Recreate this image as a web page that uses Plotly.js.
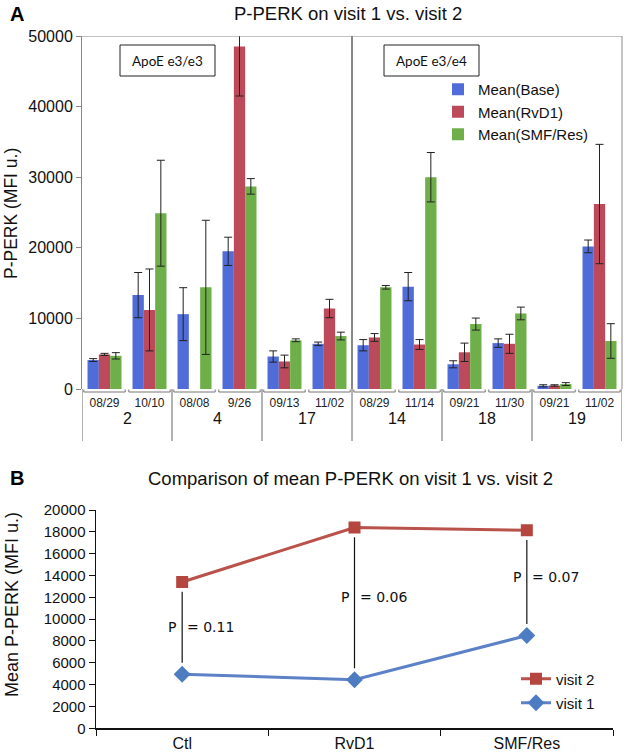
<!DOCTYPE html>
<html>
<head>
<meta charset="utf-8">
<script src="https://cdn.plot.ly/plotly-3.0.1.min.js"></script>
<style>
  html, body { margin: 0; padding: 0; background: #fff; }
  #chart { width: 625px; height: 753px; }
</style>
</head>
<body>
<div id="chart"></div>
<script>
// panel A: P-PERK per subject and visit date
const dates = ['08/29', '10/10', '08/08', '9/26', '09/13', '11/02', '08/29', '11/14', '09/21', '11/30', '09/21', '11/02'];
const subjects = ['2', '4', '17', '14', '18', '19'];
const genotypes = ['ApoE e3/e3', 'ApoE e3/e4'];
const baseMean = [4100, 13300, 10600, 19500, 4600, 6400, 6200, 14500, 3500, 6500, 450, 20200];
const baseErr = [200, 3200, 3750, 2000, 800, 250, 800, 2000, 500, 600, 150, 900];
const rvd1Mean = [4900, 11200, null, 48500, 3900, 11400, 7300, 6300, 5200, 6400, 500, 26200];
const rvd1Err = [150, 5800, 0, 7000, 900, 1300, 550, 700, 1300, 1350, 100, 8450];
const smfMean = [4700, 24900, 14400, 28700, 6900, 7500, 14400, 30000, 9200, 10700, 700, 6800];
const smfErr = [450, 7500, 9500, 1100, 200, 550, 250, 3500, 850, 900, 200, 2450];

// panel B: mean P-PERK per treatment
const treatments = ['Ctl', 'RvD1', 'SMF/Res'];
const visit2 = [13400, 18400, 18150];
const visit1 = [4950, 4450, 8500];
const pValues = ['0.11', '0.06', '0.07'];

const FONT = 'Liberation Sans, Arial, sans-serif';
const W = 625, H = 753;
const px = x => x / W;          // pixel -> paper x
const py = y => (H - y) / H;    // pixel -> paper y

// unique category keys for panel A
const keys = dates.map((d, i) => subjects[Math.floor(i / 2)] + ' ' + d);

function barTrace(name, y, err, color) {
	return {
		type: 'bar', name: name, x: keys, y: y,
		marker: { color: color },
		error_y: { type: 'data', array: err, visible: true, color: '#222', thickness: 1, width: 4 },
		xaxis: 'x', yaxis: 'y', legend: 'legend'
	};
}

let data = [
	barTrace('Mean(Base)', baseMean, baseErr, '#4F6CD9'),
	barTrace('Mean(RvD1)', rvd1Mean, rvd1Err, '#BC4A5B'),
	barTrace('Mean(SMF/Res)', smfMean, smfErr, '#6FAF4A'),
	{
		type: 'scatter', mode: 'lines+markers', name: 'visit 2', x: treatments, y: visit2,
		line: { color: '#B9524A', width: 3 },
		marker: { symbol: 'square', size: 12, color: '#B4463F' },
		xaxis: 'x2', yaxis: 'y2', legend: 'legend2'
	},
	{
		type: 'scatter', mode: 'lines+markers', name: 'visit 1', x: treatments, y: visit1,
		line: { color: '#5C81C6', width: 3 },
		marker: { symbol: 'diamond', size: 13, color: '#4E7CC3' },
		xaxis: 'x2', yaxis: 'y2', legend: 'legend3'
	}
];

let shapes = [];
let annotations = [];

function note(x, y, text, font, extra) {
	return Object.assign({
		xref: 'paper', yref: 'paper', x: x, y: y, text: text, showarrow: false,
		xanchor: 'center', yanchor: 'middle', font: font
	}, extra || {});
}

// brackets under each date label
const bTop = py(389.5), bBot = py(392);
keys.forEach((k, i) => {
	shapes.push({
		type: 'path', xref: 'x', yref: 'paper',
		path: `M ${i - 0.46},${bTop} L ${i - 0.46},${bBot} L ${i + 0.46},${bBot} L ${i + 0.46},${bTop}`,
		line: { color: '#777', width: 1 }
	});
});

// subject separators below the axis + subject labels
subjects.forEach((s, g) => {
	shapes.push({
		type: 'line', xref: 'x', yref: 'paper', x0: 2 * g - 0.5, x1: 2 * g - 0.5,
		y0: py(389), y1: py(441), line: { color: '#666', width: 1 }
	});
	annotations.push(note(2 * g + 0.5, py(419), s, { family: FONT, size: 16, color: '#111' }, { xref: 'x' }));
});
shapes.push({
	type: 'line', xref: 'x', yref: 'paper', x0: keys.length - 0.5, x1: keys.length - 0.5,
	y0: py(389), y1: py(441), line: { color: '#666', width: 1 }
});

// genotype divider, frame
shapes.push({
	type: 'line', xref: 'x', yref: 'y', x0: keys.length / 2 - 0.5, x1: keys.length / 2 - 0.5,
	y0: 0, y1: 50000, line: { color: '#111', width: 1 }
});
shapes.push({
	type: 'line', xref: 'paper', yref: 'y', x0: px(82), x1: px(622), y0: 50000, y1: 50000,
	line: { color: '#888', width: 1 }
});
shapes.push({
	type: 'line', xref: 'paper', yref: 'y', x0: px(622), x1: px(622), y0: 0, y1: 50000,
	line: { color: '#888', width: 1 }
});

// genotype boxes
const boxLeft = [120, 384];
genotypes.forEach((g, i) => {
	shapes.push({
		type: 'rect', xref: 'paper', yref: 'paper',
		x0: px(boxLeft[i]), x1: px(boxLeft[i] + 95), y0: py(45), y1: py(76),
		line: { color: '#222', width: 1 }
	});
	annotations.push(note(px(boxLeft[i] + 47.5), py(60.5), g, { family: 'Lato, sans-serif', size: 13.5, color: '#111' }));
});

// p-value lines and labels
const pLabelY = [9300, 12050, 13830];
const pFont = { family: 'DejaVu Sans, sans-serif', size: 14, color: '#111' };
treatments.forEach((t, i) => {
	shapes.push({
		type: 'line', xref: 'x2', yref: 'y2', x0: i, x1: i,
		y0: visit1[i] + 1050, y1: visit2[i] - 900, line: { color: '#111', width: 1.2 }
	});
	annotations.push(note(i, pLabelY[i], 'P', pFont, { xref: 'x2', yref: 'y2', xanchor: 'right', xshift: -4 }));
	annotations.push(note(i, pLabelY[i], '= ' + pValues[i], pFont, { xref: 'x2', yref: 'y2', xanchor: 'left', xshift: 3 }));
});

// titles and panel letters
const letterFont = { family: FONT, size: 20, color: '#000' };
const titleFont = { family: FONT, size: 18.5, color: '#111' };
annotations.push(
	note(px(8), py(14), '<b>A</b>', letterFont, { xanchor: 'left' }),
	note(px(348), py(14), 'P-PERK on visit 1 vs. visit 2', titleFont),
	note(px(11), py(214), 'P-PERK (MFI u.)', { family: FONT, size: 17.5, color: '#111' }, { textangle: -90 }),
	note(px(8), py(478), '<b>B</b>', letterFont, { xanchor: 'left' }),
	note(px(350), py(478), 'Comparison of mean P-PERK on visit 1 vs. visit 2', titleFont),
	note(px(12), py(605), 'Mean P-PERK (MFI u.)', { family: FONT, size: 18, color: '#111' }, { textangle: -90 })
);

let layout = {
	width: W, height: H,
	margin: { l: 0, r: 0, t: 0, b: 0 },
	paper_bgcolor: '#fff', plot_bgcolor: '#fff',
	barmode: 'group', bargap: 0.245, bargroupgap: 0,
	font: { family: FONT, color: '#111' },
	xaxis: {
		domain: [px(82), px(622)], anchor: 'y', type: 'category',
		range: [-0.5, keys.length - 0.5],
		tickmode: 'array', tickvals: keys, ticktext: dates,
		ticks: '', showline: false, showgrid: false, zeroline: false,
		tickfont: { family: FONT, size: 12, color: '#222' }, ticklabelstandoff: 5
	},
	yaxis: {
		domain: [py(389), py(36)], anchor: 'x', range: [0, 50000], dtick: 10000, tickformat: 'd',
		showline: true, linecolor: '#888', linewidth: 1,
		ticks: 'outside', ticklen: 5, tickcolor: '#888',
		showgrid: false, zeroline: false,
		tickfont: { family: FONT, size: 16, color: '#111' }
	},
	xaxis2: {
		domain: [px(96), px(613)], anchor: 'y2', type: 'category',
		range: [-0.5, 2.5], tickson: 'boundaries',
		ticks: 'outside', ticklen: 6, tickcolor: '#111',
		showline: true, linecolor: '#111', linewidth: 1.5,
		showgrid: false, zeroline: false,
		tickfont: { family: FONT, size: 16, color: '#111' }
	},
	yaxis2: {
		domain: [py(728.3), py(510)], anchor: 'x2', range: [0, 20000], dtick: 2000, tickformat: 'd',
		showline: true, linecolor: '#111', linewidth: 1.5,
		ticks: 'outside', ticklen: 6, tickcolor: '#111',
		showgrid: false, zeroline: false,
		tickfont: { family: FONT, size: 15, color: '#111' }
	},
	legend: {
		x: px(438), y: py(112), xanchor: 'left', yanchor: 'middle',
		bgcolor: 'rgba(0,0,0,0)', font: { family: FONT, size: 15, color: '#111' }
	},
	legend2: {
		x: px(516), y: py(679), xanchor: 'left', yanchor: 'middle',
		bgcolor: 'rgba(0,0,0,0)', font: { family: FONT, size: 15, color: '#111' }
	},
	legend3: {
		x: px(516), y: py(703), xanchor: 'left', yanchor: 'middle',
		bgcolor: 'rgba(0,0,0,0)', font: { family: FONT, size: 15, color: '#111' }
	},
	shapes: shapes,
	annotations: annotations
};

Plotly.newPlot('chart', data, layout, { displayModeBar: false, staticPlot: true });
</script>
</body>
</html>
